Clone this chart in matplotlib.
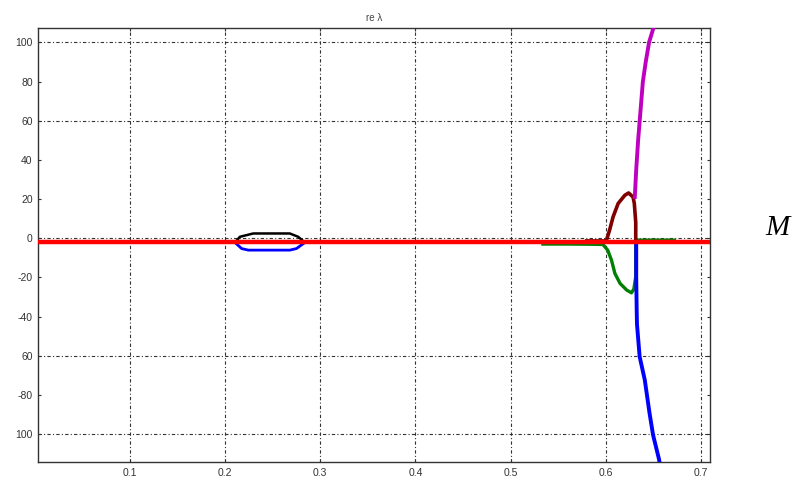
import matplotlib
matplotlib.use("Agg")
import matplotlib.pyplot as plt
import numpy as np

# Branches of re(lambda) against the parameter M
loop_upper_x = [0.2104, 0.2155, 0.2295, 0.268, 0.2768, 0.2838]
loop_upper_y = [-2.2, 0.7, 2.4, 2.4, 0.7, -2.2]
loop_lower_x = [0.2104, 0.2173, 0.2243, 0.268, 0.275, 0.2838]
loop_lower_y = [-2.2, -5.3, -6.1, -6.1, -5.3, -2.2]

green_x = [0.534, 0.560, 0.585, 0.597, 0.602, 0.606, 0.6096, 0.615, 0.622, 0.627, 0.6295, 0.6315, 0.6315, 0.645, 0.672]
green_y = [-3.0, -3.0, -3.1, -3.2, -6.1, -11.2, -18.0, -23.1, -26.5, -27.9, -26.0, -19.7, -1.0, -1.0, -1.0]

maroon_x = [0.580, 0.590, 0.6005, 0.604, 0.6077, 0.613, 0.620, 0.624, 0.6287, 0.630, 0.6315, 0.6315]
maroon_y = [-1.4, -1.4, -1.4, 4.1, 10.9, 17.7, 21.9, 23.1, 21.0, 17.7, 8.0, -1.0]

magenta_x = [0.6305, 0.6320, 0.6340, 0.6365, 0.6390, 0.6420, 0.6455, 0.6505, 0.6530]
magenta_y = [21.0, 35.0, 50.0, 65.0, 80.0, 90.0, 100.0, 108.0, 112.0]

blue_x = [0.632, 0.632, 0.6325, 0.6328, 0.6356, 0.641, 0.646, 0.6497, 0.656, 0.657]
blue_y = [-2.5, -20.0, -37.0, -44.0, -60.5, -72.4, -89.4, -100.5, -113.0, -116.0]

red_x = [0.0, 0.72]
red_y = [-2.2, -2.2]

x_ticks = [0.1, 0.2, 0.3, 0.4, 0.5, 0.6, 0.7]
y_ticks = [100, 80, 60, 40, 20, 0, -20, -40, -60, -80, -100]
y_tick_labels = ["100", "80", "60", "40", "20", "0", "-20", "-40", "60", "-80", "100"]
y_grid = [100, 60, 0, -60, -100]

plt.rcParams["font.family"] = ["Liberation Sans", "DejaVu Sans"]

fig = plt.figure(figsize=(7.93, 4.79), dpi=100)
ax = fig.add_axes([0.0483, 0.0355, 0.8470, 0.9055])

grid_style = dict(color="#333333", lw=0.8, linestyle=(0, (3, 2, 1, 2)), zorder=1)
for gx in x_ticks:
    ax.axvline(gx, **grid_style)
for gy in y_grid:
    ax.axhline(gy, **grid_style)

ax.plot(loop_upper_x, loop_upper_y, color="black", lw=1.8, zorder=3)
ax.plot(loop_lower_x, loop_lower_y, color="#0000ff", lw=2.0, zorder=3)
ax.plot(green_x, green_y, color="#008000", lw=2.4, zorder=3)
ax.plot(maroon_x, maroon_y, color="#800000", lw=2.6, zorder=4)
ax.plot(magenta_x, magenta_y, color="#c000c0", lw=2.8, zorder=4)
ax.plot(blue_x, blue_y, color="#0000ff", lw=2.8, zorder=5)
ax.plot(red_x, red_y, color="#ff0000", lw=3.2, zorder=6)

ax.set_xlim(0.0037, 0.7095)
ax.set_ylim(-114.3, 107.2)
ax.set_xticks(x_ticks)
ax.set_xticklabels([f"{t:.1f}" for t in x_ticks])
ax.set_yticks(y_ticks)
ax.set_yticklabels(y_tick_labels)
ax.tick_params(direction="in", length=2, width=0.8, colors="#333333",
               labelsize=7.5, top=True, right=True, pad=4)
for s in ax.spines.values():
    s.set_color("#333333")
    s.set_linewidth(1.0)

ax.set_title("re λ", fontsize=7, color="#444444", pad=5)

fig.text(0.980, 0.523, "M", family="Liberation Serif", style="italic",
         fontsize=21, ha="center", va="center", color="black")

fig.savefig("out.png", dpi=100)
